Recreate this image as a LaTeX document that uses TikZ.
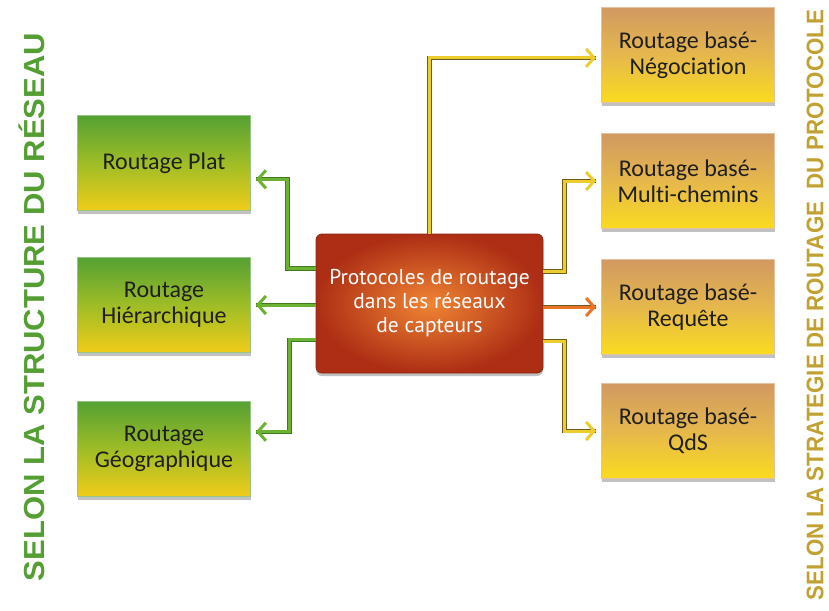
\documentclass[tikz,border=0pt]{standalone}
\usepackage{fontspec}
\setmainfont{Carlito}[Ligatures=NoCommon]
\newfontfamily\centerfont{PT Sans}
\newfontfamily\sidefont{Liberation Sans}
\usetikzlibrary{arrows.meta,shadows,calc}

\definecolor{gtop}{rgb}{0.33,0.63,0.20}
\definecolor{gmid}{rgb}{0.62,0.74,0.15}
\definecolor{gbot}{rgb}{0.94,0.80,0.10}
\definecolor{otop}{rgb}{0.82,0.60,0.38}
\definecolor{omid}{rgb}{0.90,0.72,0.30}
\definecolor{obot}{rgb}{0.98,0.86,0.12}
\definecolor{cin}{rgb}{0.94,0.52,0.20}
\definecolor{cout}{rgb}{0.68,0.18,0.08}
\definecolor{lgreen}{rgb}{0.42,0.70,0.20}
\definecolor{dgreen}{rgb}{0.26,0.48,0.12}
\definecolor{lyel}{rgb}{0.93,0.80,0.18}
\definecolor{lorange}{rgb}{0.92,0.45,0.15}
\definecolor{dolive}{rgb}{0.42,0.36,0.12}
\definecolor{labgreen}{rgb}{0.33,0.62,0.20}
\definecolor{labgold}{rgb}{0.76,0.63,0.20}
\definecolor{boxtext}{rgb}{0.12,0.12,0.12}

\tikzset{
  boxshadow/.style={drop shadow={shadow xshift=0pt, shadow yshift=-3pt, opacity=0.35, fill=black!70}},
  leafbox/.style={rectangle, minimum width=173pt, minimum height=95pt, align=center,
    text=boxtext, font=\fontsize{24}{26}\selectfont, line width=0.8pt, boxshadow},
  greenbox/.style={leafbox, top color=gtop, bottom color=gbot, middle color=gmid, draw=gtop!60!white},
  orangebox/.style={leafbox, top color=otop, bottom color=obot, middle color=omid, draw=otop!60!white},
  hubbox/.style={rectangle, rounded corners=6pt, minimum width=227pt, minimum height=139pt,
    align=center, text=white, font=\centerfont\fontsize{21.5}{24}\selectfont,
    inner color=cin, outer color=cout, draw=cout!80!black, line width=0.8pt, boxshadow},
  tip/.style={-{Straight Barb[length=8pt,width=18pt]}, shorten >=5pt},
  gline/.style={tip, line width=3pt, draw=lgreen, preaction={draw=dgreen, line width=4.4pt, arrows=-}},
  yline/.style={tip, line width=3pt, draw=lyel, preaction={draw=dolive, line width=4.4pt, arrows=-}},
  oline/.style={tip, line width=3pt, draw=lorange, preaction={draw=dolive, line width=4.4pt, arrows=-}},
}

\begin{document}
\begin{tikzpicture}[x=1pt,y=-1pt]
\useasboundingbox (0,0) rectangle (829,610);

% central hub
\node[hubbox] (c) at (429.5,303.5) {Protocoles de routage\\dans les réseaux\\de capteurs};

% network-structure family (left)
\node[greenbox] (plat) at (164,163) {Routage Plat};
\node[greenbox] (hier) at (164,305) {Routage\\Hiérarchique};
\node[greenbox] (geo)  at (164,449) {Routage\\Géographique};

% routing-strategy family (right)
\node[orangebox] (nego)  at (688,55)  {Routage basé-\\Négociation};
\node[orangebox] (multi) at (688,181) {Routage basé-\\Multi-chemins};
\node[orangebox] (req)   at (688,307) {Routage basé-\\Requête};
\node[orangebox] (qds)   at (688,431) {Routage basé-\\QdS};

% connectors to the left family
\draw[gline] ($(c.north west)!0.25!(c.south west)$) -- ++(-28,0)
  |- ($(plat.north east)!0.67!(plat.south east)$);
\draw[gline] (c.west |- hier.east) -- (hier.east);
\draw[gline] ($(c.north west)!0.76!(c.south west)$) -- ++(-26,0)
  |- ($(geo.north east)!0.32!(geo.south east)$);

% connectors to the right family
\draw[yline] (c.north) |- ($(nego.north west)!0.53!(nego.south west)$);
\draw[yline] ($(c.north east)!0.27!(c.south east)$) -- ++(21,0) |- (multi.west);
\draw[oline] (c.east |- req.west) -- (req.west);
\draw[yline] ($(c.north east)!0.77!(c.south east)$) -- ++(21,0) |- (qds.west);

% side captions
\node[rotate=90, text=labgreen, font=\sidefont\bfseries\fontsize{29}{29}\selectfont, inner sep=0pt]
  (lcap) at (32,307) {\scalebox{1.07}[1]{SELON LA STRUCTURE DU RÉSEAU}};
\node[rotate=90, text=labgold, font=\sidefont\bfseries\fontsize{24}{24}\selectfont, inner sep=0pt]
  (rcap) at (815,305) {\scalebox{0.93}[1]{SELON LA STRATEGIE DE ROUTAGE\ \ DU PROTOCOLE}};
\end{tikzpicture}
\end{document}
